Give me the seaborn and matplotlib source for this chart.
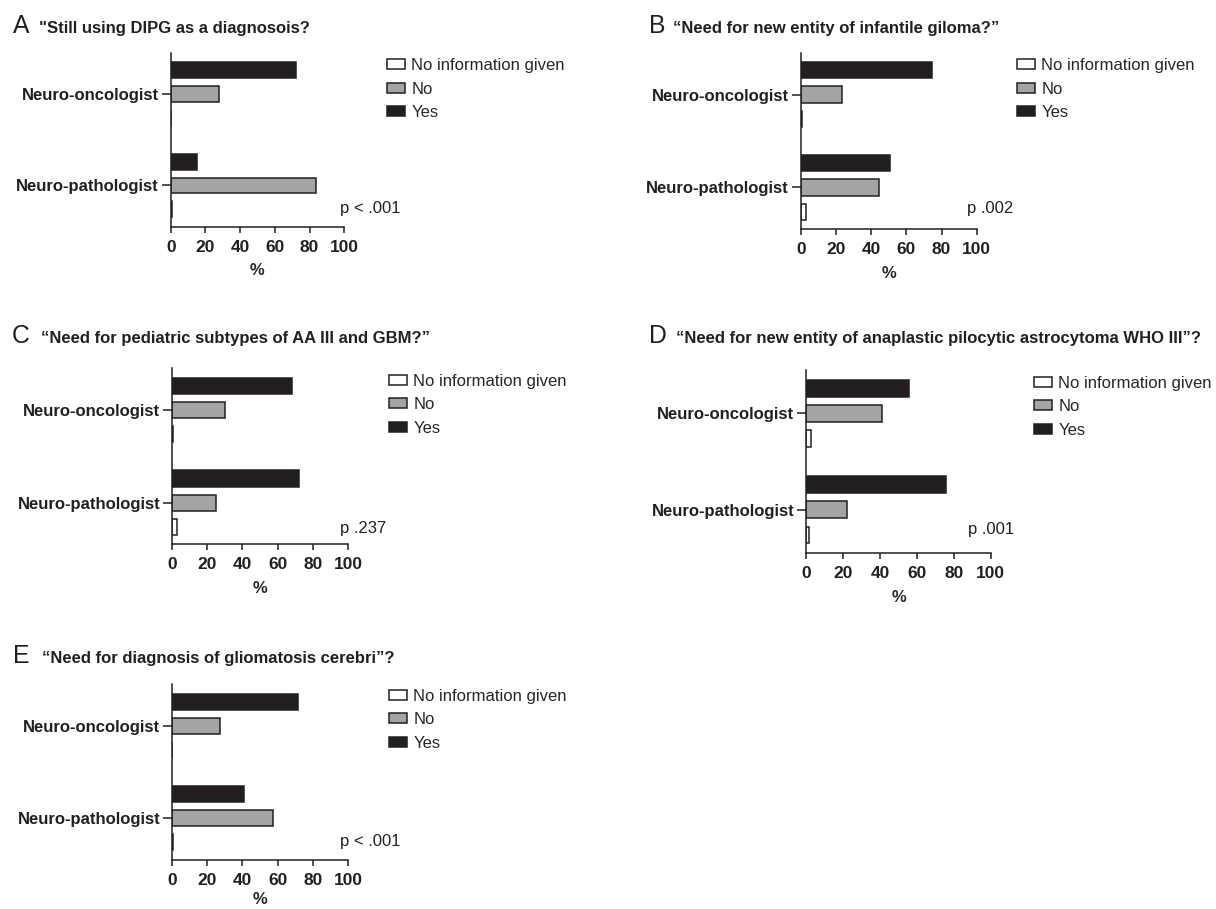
import numpy as np
import pandas as pd
import matplotlib
matplotlib.use("Agg")
import matplotlib.pyplot as plt
from matplotlib.patches import Patch
import seaborn as sns

# ---------------- data ----------------
groups = ["Neuro-oncologist", "Neuro-pathologist"]
responses = ["Yes", "No", "No information given"]
legend_order = ["No information given", "No", "Yes"]

panel_letters = ["A", "B", "C", "D", "E"]
panel_titles = [
    '"Still using DIPG as a diagnosois?',
    "\u201cNeed for new entity of infantile giloma?\u201d",
    "\u201cNeed for pediatric subtypes of AA III and GBM?\u201d",
    "\u201cNeed for new entity of anaplastic pilocytic astrocytoma WHO III\u201d?",
    "\u201cNeed for diagnosis of gliomatosis cerebri\u201d?",
]
p_values = ["p < .001", "p .002", "p .237", "p .001", "p < .001"]

# values per group: [Neuro-oncologist, Neuro-pathologist] (%)
yes_A = [72.0, 15.0]
no_A = [28.0, 83.5]
noinfo_A = [0.0, 1.0]

yes_B = [74.5, 51.0]
no_B = [23.5, 44.5]
noinfo_B = [0.8, 3.2]

yes_C = [68.0, 72.0]
no_C = [30.0, 25.0]
noinfo_C = [0.8, 2.7]

yes_D = [55.5, 75.5]
no_D = [41.0, 22.3]
noinfo_D = [2.7, 1.5]

yes_E = [71.5, 41.0]
no_E = [27.3, 57.2]
noinfo_E = [0.0, 0.8]

x_ticks = [0, 20, 40, 60, 80, 100]

series = [
    (yes_A, no_A, noinfo_A),
    (yes_B, no_B, noinfo_B),
    (yes_C, no_C, noinfo_C),
    (yes_D, no_D, noinfo_D),
    (yes_E, no_E, noinfo_E),
]

# ---------------- style ----------------
W, H = 1216, 909
DPI = 100
sns.set_style("ticks")
plt.rcParams["font.family"] = ["Liberation Sans", "DejaVu Sans"]
plt.rcParams["axes.linewidth"] = 1.1

EDGE = "#231f20"
colors = {"Yes": "#231f20", "No": "#a4a4a4", "No information given": "#ffffff"}

# axes boxes in pixels: left, top, right, bottom
boxes = [
    (170.7, 52.7, 344.3, 226.7),
    (800.7, 52.7, 976.7, 229.3),
    (172.0, 368.3, 348.0, 544.3),
    (806.3, 370.0, 990.7, 553.3),
    (172.0, 684.0, 348.0, 860.0),
]
# title letter x, title text x, baseline y
title_pos = [
    (12.7, 39.3, 32.7),
    (649.0, 672.7, 32.7),
    (12.0, 40.6, 342.7),
    (648.7, 676.5, 343.0),
    (13.0, 41.8, 662.7),
]
# legend handle left x, first row centre y
legend_pos = [
    (387.0, 65.0),
    (1017.0, 65.0),
    (389.0, 380.7),
    (1034.0, 382.7),
    (389.0, 695.7),
]
# p-value text anchor (data coords)
p_pos = [(97.5, 1.25), (94.5, 1.23), (95.5, 1.28), (87.5, 1.20), (95.5, 1.25)]
xlabel_pad = [6, 6, 6, 6, 3]

fig = plt.figure(figsize=(W / DPI, H / DPI), dpi=DPI)


def fx(x):
    return x / W


def fy(y):
    return 1 - y / H


for i in range(5):
    l, t, r, b = boxes[i]
    ax = fig.add_axes([fx(l), fy(b), (r - l) / W, (b - t) / H])
    yes, no, noinfo = series[i]
    df = pd.DataFrame({
        "group": groups * 3,
        "response": np.repeat(responses, len(groups)),
        "value": list(yes) + list(no) + list(noinfo),
    })
    sns.barplot(data=df, x="value", y="group", hue="response",
                order=groups, hue_order=responses, palette=colors,
                orient="h", width=0.78, gap=0.33, saturation=1,
                edgecolor=EDGE, linewidth=1.1, errorbar=None,
                legend=False, ax=ax)
    ax.set_xlim(0, 100)
    ax.set_ylim(1.45, -0.45)
    ax.set_xticks(x_ticks)
    ax.set_xticklabels([str(v) for v in x_ticks], fontweight="bold", fontsize=12.5)
    ax.set_yticks(range(len(groups)))
    ax.set_yticklabels(groups, fontweight="bold", fontsize=12)
    ax.set_xlabel("%", fontweight="bold", fontsize=12, labelpad=xlabel_pad[i])
    ax.set_ylabel("")
    sns.despine(ax=ax)
    for s in ["left", "bottom"]:
        ax.spines[s].set_color(EDGE)
        ax.spines[s].set_linewidth(1.1)
    ax.tick_params(axis="x", length=4.3, width=1.1, pad=5, colors=EDGE)
    ax.tick_params(axis="y", length=6.5, width=1.1, pad=2, colors=EDGE)
    ax.text(p_pos[i][0], p_pos[i][1], p_values[i], fontsize=12,
            ha="left", va="center", color=EDGE)

    handles = [Patch(facecolor=colors[k], edgecolor=EDGE, linewidth=1.1)
               for k in legend_order]
    lx, ly = legend_pos[i]
    ax.legend(handles=handles, labels=legend_order, loc="upper left",
              bbox_to_anchor=(fx(lx), fy(ly - 7)), bbox_transform=fig.transFigure,
              frameon=False, borderpad=0, borderaxespad=0,
              handlelength=1.1, handleheight=0.55, handletextpad=0.36,
              labelspacing=0.52, fontsize=12)

    lxp, txp, by = title_pos[i]
    fig.text(fx(lxp), fy(by), panel_letters[i], fontsize=17.8,
             ha="left", va="baseline", color=EDGE)
    fig.text(fx(txp), fy(by), panel_titles[i], fontsize=12, fontweight="bold",
             ha="left", va="baseline", color=EDGE)

fig.savefig("out.png", dpi=DPI)
